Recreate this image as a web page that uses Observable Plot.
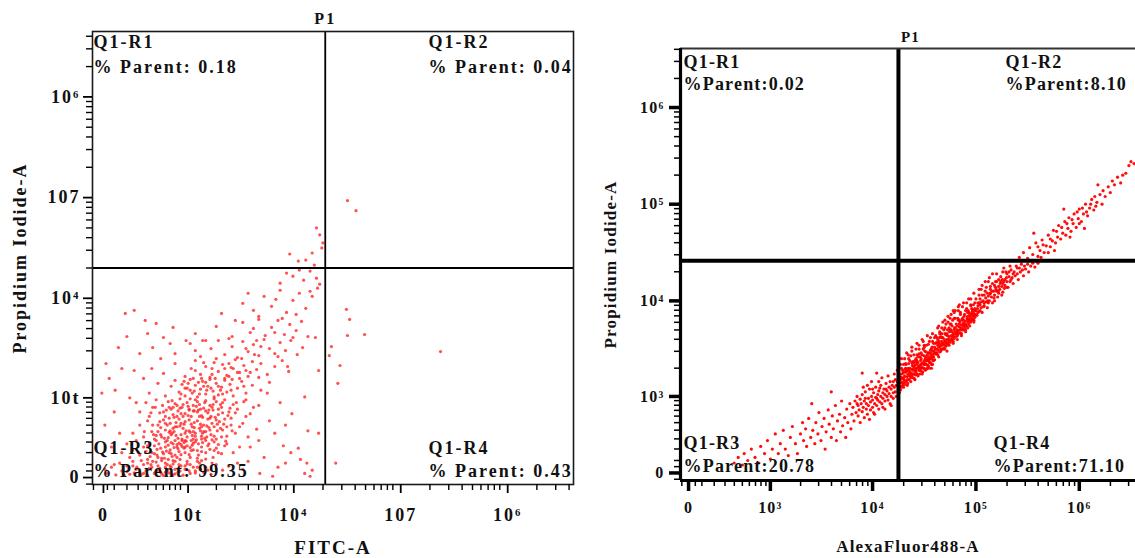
<!DOCTYPE html>
<html><head><meta charset="utf-8">
<script src="https://cdn.jsdelivr.net/npm/d3@7"></script>
<script src="https://cdn.jsdelivr.net/npm/@observablehq/plot@0.6"></script>
<style>
html,body{margin:0;padding:0;background:#fff;overflow:hidden;width:1135px;height:558px}
#wrap{position:relative;width:1135px;height:558px;overflow:hidden}
#left{position:absolute;left:0;top:0;width:585px}
#right{position:absolute;left:590px;top:0;width:560px}
svg{max-width:none !important}
svg text{font-family:"Liberation Serif","Times New Roman",serif;font-weight:bold;fill:#111}
#left svg text{letter-spacing:2px}
#right svg text{letter-spacing:1.2px}
</style></head><body><div id="wrap"><div id="left"></div><div id="right"></div></div>
<script>
// ---------- axis ticks and labels ----------
const majorValues = [0, 1e3, 1e4, 1e5, 1e6];
const leftXTickLabels = ["0", "10t", "10⁴", "107", "10⁶"];
const leftYTickLabels = ["0", "10t", "10⁴", "107", "10⁶"];
const rightTickLabels = ["0", "10³", "10⁴", "10⁵", "10⁶"];
const quadrantNames = ["Q1-R1", "Q1-R2", "Q1-R3", "Q1-R4"];
const leftParents = ["0.18", "0.04", "99.35", "0.43"];
const rightParents = ["0.02", "8.10", "20.78", "71.10"];
const gateName = "P1";
const leftTitles = {x: "FITC-A", y: "Propidium Iodide-A"};
const rightTitles = {x: "AlexaFluor488-A", y: "Propidium Iodide-A"};
// gate thresholds (intensity)
const leftGate = [2.1e4, 2.0e4];
const rightGate = [1.78e4, 2.6e4];
// visible axis ranges (intensity)
const leftXRange = [-57, 4.4e6], leftYRange = [-53, 4.46e6];
const rightXRange = [-60, 4.37e6], rightYRange = [-60, 4.08e6];

// ---------- events: [log10 FITC / AlexaFluor488, log10 PI] ----------
const leftCore = [
[1.7,1.5],[1.9,1.9],[2.05,1.3],[2.15,2.05],[2.2,1.7],[2.3,1.95],[2.35,1.4],[2.4,2.1],[2.45,1.8],[2.5,1.6],[2.55,2.0],[2.6,1.2],[2.62,1.85],[2.66,2.1],[2.7,1.65],[2.72,1.95],[2.76,1.45],[2.8,2.05],[2.82,1.75],[2.86,1.9],[2.88,1.3],[2.9,2.1],[2.93,1.6],[2.96,1.95],[3.0,1.8],[3.02,2.1],[3.05,1.5],[3.08,1.9],[3.1,1.7],[3.14,2.05],[3.18,1.6],[3.2,1.9],[3.25,1.4],[3.3,2.0],[3.36,1.75],[3.42,1.95],[2.25,1.2],[2.52,1.35],[2.78,1.2],[2.98,1.25],[1.5,1.8],[2.0,2.0],[2.42,1.55],[2.68,1.5],[2.84,1.55],
[2.2,2.3],[2.3,2.45],[2.35,2.2],[2.4,2.35],[2.45,2.5],[2.5,2.25],[2.55,2.4],[2.6,2.15],[2.62,2.45],[2.65,2.3],[2.7,2.5],[2.72,2.2],[2.75,2.38],[2.78,2.28],[2.8,2.48],[2.83,2.15],[2.85,2.35],[2.88,2.45],[2.9,2.25],[2.92,2.4],[2.95,2.15],[2.97,2.5],[3.0,2.3],[3.02,2.42],[3.05,2.2],[3.08,2.35],[3.1,2.48],[3.13,2.25],[3.16,2.4],[3.2,2.3],[3.23,2.45],[3.27,2.2],[3.3,2.38],[3.35,2.28],[3.4,2.45],[3.46,2.3],[3.52,2.4],[2.58,2.32],[2.68,2.42],[2.87,2.22],[2.99,2.38],[3.12,2.18],[2.76,2.12],[3.06,2.5],[2.94,2.32],
[2.4,2.6],[2.5,2.7],[2.55,2.55],[2.6,2.75],[2.65,2.62],[2.68,2.52],[2.72,2.7],[2.75,2.58],[2.78,2.76],[2.8,2.64],[2.83,2.54],[2.85,2.72],[2.87,2.6],[2.9,2.5],[2.92,2.68],[2.94,2.77],[2.96,2.58],[2.98,2.66],[3.0,2.74],[3.02,2.55],[3.04,2.63],[3.06,2.71],[3.08,2.52],[3.1,2.6],[3.12,2.75],[3.14,2.66],[3.16,2.56],[3.18,2.7],[3.2,2.62],[3.22,2.77],[3.25,2.58],[3.28,2.68],[3.3,2.52],[3.33,2.74],[3.36,2.64],[3.4,2.56],[3.44,2.7],[3.48,2.6],[3.55,2.72],[3.6,2.55],[2.82,2.7],[2.97,2.52],[3.07,2.68],[3.17,2.6],[2.88,2.66],[3.26,2.72],[2.7,2.57],[3.38,2.77],
[2.5,2.85],[2.58,2.95],[2.62,2.8],[2.66,2.9],[2.7,2.98],[2.74,2.84],[2.77,2.92],[2.8,2.8],[2.83,2.96],[2.86,2.88],[2.88,2.82],[2.9,2.94],[2.93,2.86],[2.95,2.99],[2.97,2.9],[3.0,2.83],[3.02,2.95],[3.04,2.87],[3.06,2.8],[3.08,2.92],[3.1,2.98],[3.12,2.85],[3.14,2.93],[3.16,2.81],[3.18,2.89],[3.2,2.97],[3.22,2.84],[3.24,2.92],[3.27,2.87],[3.3,2.96],[3.32,2.82],[3.35,2.9],[3.38,2.98],[3.42,2.85],[3.46,2.93],[3.5,2.88],[3.56,2.96],[3.62,2.83],[3.7,2.92],[2.92,2.8],[3.05,2.99],[3.15,2.88],[3.25,2.8],[2.84,2.9],[3.09,2.86],[3.36,2.95],[2.98,2.93],[3.28,2.99],
[2.62,3.05],[2.72,3.15],[2.8,3.02],[2.86,3.12],[2.9,3.18],[2.94,3.06],[2.97,3.14],[3.0,3.02],[3.02,3.1],[3.05,3.19],[3.07,3.05],[3.1,3.13],[3.12,3.01],[3.15,3.09],[3.17,3.17],[3.2,3.04],[3.22,3.12],[3.24,3.19],[3.27,3.07],[3.3,3.15],[3.32,3.03],[3.35,3.11],[3.38,3.18],[3.4,3.06],[3.43,3.14],[3.46,3.02],[3.5,3.1],[3.54,3.17],[3.58,3.05],[3.64,3.13],[3.72,3.08],[3.8,3.16],[3.13,3.16],[3.25,3.1],[3.05,3.08],[3.36,3.04],[2.99,3.17],[3.18,3.12],[3.45,3.19],[3.28,3.01],
[2.78,3.25],[2.9,3.35],[3.0,3.22],[3.06,3.3],[3.1,3.38],[3.15,3.24],[3.2,3.32],[3.24,3.21],[3.28,3.36],[3.32,3.27],[3.36,3.34],[3.4,3.23],[3.44,3.31],[3.48,3.39],[3.52,3.26],[3.56,3.33],[3.6,3.22],[3.64,3.37],[3.68,3.29],[3.72,3.35],[3.78,3.24],[3.85,3.32],[3.92,3.38],[3.98,3.27],[3.3,3.4],[3.46,3.3],[3.58,3.28],[3.18,3.36],[3.38,3.2],[3.7,3.21]
];
const leftCoreDense = [
[2.81,2.33],[2.84,2.61],[2.86,2.47],[2.89,2.79],[2.91,2.57],[2.93,2.37],[2.95,2.69],[2.96,2.83],[2.99,2.47],[3.01,2.63],[3.03,2.81],[3.05,2.39],[3.07,2.57],[3.09,2.73],[3.11,2.91],[3.13,2.45],[3.15,2.63],[3.17,2.79],[3.19,2.53],[3.21,2.69],[3.23,2.87],[3.26,2.51],[3.29,2.79],[3.31,2.63],[3.34,2.93],[3.37,2.71],[3.39,2.49],[3.41,2.81],[3.45,2.63],[3.49,2.95],
[2.73,2.45],[2.75,2.67],[2.77,2.31],[2.79,2.53],[2.81,2.87],[2.83,2.43],[2.85,2.63],[2.87,2.97],[2.89,2.39],[2.91,2.73],[2.93,2.53],[2.95,2.89],[2.97,2.41],[2.99,2.71],[3.01,2.49],[3.03,2.91],[3.05,2.61],[3.07,2.43],[3.09,2.67],[3.11,2.51],[3.13,2.87],[3.15,2.71],[3.17,2.47],[3.19,2.95],[3.21,2.55],[3.23,2.67],[3.27,2.93],[3.31,2.71],[3.35,2.55],[3.43,2.89],
[2.63,2.22],[2.67,2.58],[2.71,2.36],[2.74,2.74],[2.79,2.18],[2.82,2.5],[2.86,2.28],[2.89,2.62],[2.92,2.2],[2.96,2.44],[3.0,2.6],[3.04,2.26],[3.08,2.46],[3.12,2.34],[3.16,2.52],[3.2,2.16],[3.24,2.36],[3.28,2.48],[3.32,2.3],[3.38,2.42],
[2.46,1.9],[2.58,1.7],[2.64,2.0],[2.74,1.85],[2.8,1.6],[2.9,1.8],[2.94,2.0],[3.04,1.7],[3.12,1.9],[3.22,1.75],[2.52,2.12],[2.7,2.08],[2.88,2.02],[3.16,2.12],[3.26,2.05],
[2.96,3.04],[3.03,3.15],[3.09,3.07],[3.16,3.2],[3.21,3.08],[3.29,3.2],[3.34,3.08],[3.42,3.22],[3.52,3.2],[3.62,3.26],[3.1,3.28],[3.26,3.3],[3.42,3.35],[3.54,3.4],[3.66,3.44],
[2.66,2.7],[2.69,2.9],[2.71,2.25],[2.73,1.75],[2.76,2.55],[2.78,2.85],[2.8,2.4],[2.82,2.0],[2.84,2.78],[2.86,2.58],[2.88,2.12],[2.9,2.68],[2.92,2.92],[2.94,2.46],[2.96,2.26],[2.98,2.8],[3.0,2.5],[3.02,2.02],[3.04,2.76],[3.06,2.34],[3.08,2.86],[3.1,2.56],[3.12,2.1],[3.14,2.8],[3.16,2.32],[3.18,2.62],[3.2,2.86],[3.22,2.42],[3.24,2.64],[3.26,2.9],[3.28,2.56],[3.3,2.76],[3.32,2.44],[3.34,2.66],[3.36,2.84],[3.4,2.68],[3.44,2.78],[3.48,2.84],[3.52,2.68],[3.58,2.8],
[2.56,2.62],[2.6,2.42],[2.64,2.84],[2.68,2.28],[2.72,2.62],[2.76,2.18],[2.8,2.72],[2.84,2.3],[2.88,2.9],[2.92,2.44],[2.96,2.72],[3.0,2.4],[3.04,2.88],[3.08,2.62],[3.12,2.96],[3.16,2.68],[3.2,2.5],[3.24,2.78],[3.28,2.34],[3.32,2.88],
[2.55,1.5],[2.65,1.9],[2.75,1.6],[2.85,1.95],[2.95,1.7],[3.05,2.0],[3.15,1.8],[2.6,2.05],[2.8,1.9],[3.0,1.95],[2.7,1.3],[2.9,1.45],[3.1,1.55],[2.4,1.95],[2.3,1.65],
[3.0,3.1],[3.08,3.2],[3.14,3.04],[3.2,3.16],[3.26,3.24],[3.32,3.12],[3.38,3.3],[3.44,3.08],[3.5,3.26],[3.56,3.12]
];
const leftTail = [
[2.9,3.45],[3.05,3.55],[3.15,3.42],[3.25,3.5],[3.32,3.58],[3.38,3.44],[3.45,3.52],[3.5,3.41],[3.55,3.57],[3.6,3.47],[3.65,3.54],[3.7,3.43],[3.75,3.59],[3.8,3.5],[3.85,3.45],[3.9,3.56],[3.95,3.48],[4.0,3.58],[4.06,3.44],[3.42,3.6],[3.58,3.5],[3.72,3.52],[3.2,3.58],[3.68,3.58],[3.88,3.42],
[3.1,3.65],[3.3,3.72],[3.45,3.62],[3.55,3.76],[3.62,3.66],[3.7,3.79],[3.76,3.63],[3.82,3.71],[3.88,3.78],[3.94,3.64],[3.99,3.74],[4.05,3.68],[4.1,3.77],[4.16,3.62],[3.65,3.7],[3.85,3.66],[3.48,3.78],[3.92,3.8],[4.02,3.61],
[3.35,3.85],[3.55,3.95],[3.65,3.88],[3.75,4.02],[3.82,3.92],[3.9,4.08],[3.96,3.86],[4.02,3.98],[4.08,4.05],[4.14,3.9],[4.2,4.02],[4.25,4.1],[3.7,3.82],[3.86,3.99],[4.05,3.84],[4.18,4.07],[3.6,4.05],
[3.9,4.15],[4.02,4.22],[4.12,4.18],[4.18,4.27],[4.24,4.2],[4.27,4.14],[4.08,4.28],[3.96,4.25]
];
const leftSparse = [
[2.42,3.88],[2.27,3.85],[2.57,3.78],[2.7,3.75],[2.12,3.51],[2.66,3.51],[1.6,3.35],[1.0,3.05],[2.03,3.08],[2.42,3.28],[2.88,3.71],[2.78,3.61],[3.01,3.58],[3.17,3.58],[3.1,3.48],
[2.3,3.62],[2.5,3.45],[1.8,3.2],[2.2,3.3],[2.6,3.65],[2.75,3.4],[2.0,2.85],[1.5,2.7],[2.35,3.0],[2.55,3.2],[2.15,2.6],[1.9,2.4],[2.45,2.95],[2.85,3.55],[2.65,3.3],
[4.26,2.6],[4.07,2.38],[3.95,2.05],[4.2,1.75],[4.13,1.5],[4.01,2.83],[4.13,3.01],[3.97,3.32],[4.26,3.28],[4.11,3.51],[4.23,3.61],[3.71,1.5],[3.83,1.0],[3.93,2.42],[4.0,2.3],[4.09,2.15],[4.16,2.63],[4.18,1.0],[4.15,2.05],
[3.6,2.1],[3.7,2.5],[3.8,2.75],[3.65,2.9],[3.75,2.2],[3.85,2.6],[3.9,2.95],[3.55,1.8],[3.62,2.4],[3.78,3.05],[3.88,1.9],[3.5,2.05],[3.68,2.65],[3.95,2.7],[3.58,2.98]
];
const leftOutliers = [
[3.99,4.44],[4.07,4.37],[4.14,4.38],[4.22,4.33],[4.24,4.7],[4.27,4.63],[4.29,4.5],[4.3,4.55],[4.2,4.45],
[4.53,4.97],[4.61,4.87],
[4.52,3.89],[4.55,3.79],[4.69,3.64],[4.53,3.63],[4.36,3.43],[4.46,3.33],[4.44,3.15],[5.4,3.47],[4.42,2.05],[4.38,3.52]
];

const rightTail = [
[2.6,1.9],[2.65,2.1],[2.7,1.8],[2.72,2.2],[2.76,2.0],[2.8,2.3],[2.84,2.1],[2.88,1.9],[2.9,2.35],[2.94,2.2],[2.97,2.45],[3.0,2.05],[3.02,2.3],[3.05,2.55],[3.08,2.2],[3.1,2.4],[3.13,2.6],[3.15,2.3],[3.18,2.15],[3.2,2.5],[3.22,2.65],[3.25,2.4],[3.27,2.2],[3.3,2.55],[3.32,2.7],
[3.33,2.45],[3.35,2.62],[3.36,2.35],[3.38,2.75],[3.4,2.5],[3.41,2.92],[3.42,2.6],[3.44,2.4],[3.45,2.7],[3.47,2.55],[3.48,2.82],[3.5,2.45],[3.51,2.65],[3.53,2.75],[3.54,2.3],[3.55,2.58],[3.57,2.85],[3.58,2.68],[3.6,2.5],[3.61,2.78],[3.62,2.62],[3.64,2.9],[3.65,2.45],[3.66,2.72],[3.68,2.8],[3.69,2.58],[3.7,2.95],[3.71,2.66],[3.73,2.76],[3.74,2.5],[3.75,2.86],[3.76,2.7],[3.78,2.92],[3.79,2.62],[3.8,2.8],[3.6,3.05],[3.9,3.25],
[3.81,2.88],[3.82,2.72],[3.83,2.95],[3.84,2.82],[3.85,3.0],[3.86,2.78],[3.86,2.9],[3.87,2.85],[3.88,2.97],[3.88,2.7],[3.89,2.92],[3.9,2.83],[3.9,3.02],[3.91,2.88],[3.92,2.76],[3.92,2.95],[3.93,3.05],[3.94,2.86],[3.94,2.92],[3.95,2.8],[3.96,2.98],[3.96,2.9],[3.97,3.08],[3.98,2.85],[3.98,2.94],[3.99,3.0],[4.0,2.88],[4.0,2.96],[4.01,3.04],[4.01,2.82],[4.02,2.92],[4.03,2.99],[4.03,3.1],[4.04,2.9],[4.05,2.96],[4.05,3.02],[4.06,2.86],[4.06,3.06],[4.07,2.94],[4.08,3.0],[4.08,3.12],[4.09,2.92],[4.1,3.04],[4.1,2.98],[4.11,3.08],[4.12,2.95],[4.12,3.02],[4.13,3.14],[4.14,3.0],[4.14,3.06],[4.15,2.96],[4.16,3.1],[4.16,3.03],[4.17,3.16],[4.18,3.0],[4.18,3.08],[4.19,3.12],[4.2,3.04],[4.2,2.98],[4.21,3.1],[4.22,3.18],[4.22,3.05],[4.23,3.12],[4.23,3.0],[4.04,3.25],
[3.91,3.1],[3.95,3.12],[3.99,3.16],[4.02,2.8],[4.06,3.16],[4.09,3.2],[4.12,2.86],[4.15,3.22],[4.18,2.9],[4.21,3.24],[3.85,2.92],[3.93,2.98],[4.0,3.08],[4.07,3.09],[4.13,3.08],[4.17,2.92],[4.2,3.16],[3.97,2.74],[4.04,2.98],[4.1,2.88]
];
const rightBand = [
[4.24,3.16],[4.25,3.08],[4.25,3.23],[4.26,3.14],[4.27,3.21],[4.27,3.07],[4.28,3.3],[4.29,3.19],[4.29,3.12],[4.3,3.26],[4.31,3.13],[4.31,3.22],[4.32,3.35],[4.33,3.21],[4.33,3.28],[4.34,3.14],[4.35,3.35],[4.35,3.22],[4.36,3.29],[4.37,3.2],[4.37,3.43],[4.38,3.29],[4.39,3.2],[4.39,3.37],[4.4,3.24],[4.41,3.33],[4.41,3.27],[4.42,3.4],[4.43,3.3],[4.43,3.24],[4.44,3.36],[4.45,3.28],[4.45,3.45],[4.46,3.33],[4.47,3.27],[4.47,3.4],[4.48,3.31],[4.49,3.5],[4.49,3.36],[4.5,3.3],[4.5,3.43],[4.51,3.35],[4.52,3.29],[4.52,3.47],[4.53,3.38],[4.54,3.32],[4.54,3.55],[4.55,3.42],[4.56,3.36],[4.56,3.49],[4.57,3.4],[4.58,3.34],[4.58,3.58],[4.59,3.45],[4.6,3.39],[4.6,3.52],
[4.245,3.12],[4.26,3.2],[4.275,3.15],[4.28,3.1],[4.295,3.25],[4.305,3.18],[4.32,3.16],[4.325,3.27],[4.34,3.24],[4.355,3.18],[4.36,3.38],[4.375,3.25],[4.385,3.33],[4.4,3.3],[4.405,3.19],[4.42,3.28],[4.425,3.36],[4.44,3.31],[4.455,3.24],[4.46,3.42],[4.475,3.35],[4.485,3.26],[4.5,3.38],[4.505,3.48],[4.52,3.34],[4.53,3.44],[4.545,3.38],[4.55,3.3],[4.565,3.44],[4.575,3.52],[4.585,3.38],[4.595,3.48],
[4.25,3.19],[4.265,3.11],[4.28,3.24],[4.29,3.15],[4.3,3.2],[4.315,3.29],[4.33,3.17],[4.345,3.3],[4.35,3.27],[4.365,3.24],[4.38,3.36],[4.39,3.28],[4.41,3.38],[4.415,3.23],[4.43,3.34],[4.45,3.32],[4.465,3.38],[4.48,3.44],[4.49,3.3],[4.51,3.4],[4.52,3.38],[4.535,3.33],[4.55,3.46],[4.56,3.4],[4.57,3.34],[4.58,3.48],[4.59,3.42],
[4.24,3.28],[4.26,3.04],[4.27,3.34],[4.285,3.2],[4.3,3.1],[4.31,3.4],[4.32,3.26],[4.335,3.12],[4.345,3.44],[4.36,3.3],[4.37,3.16],[4.38,3.48],[4.39,3.24],[4.4,3.36],[4.41,3.18],[4.42,3.5],[4.43,3.38],[4.44,3.22],[4.45,3.54],[4.46,3.28],[4.47,3.46],[4.48,3.24],[4.49,3.58],[4.5,3.34],[4.51,3.28],[4.52,3.54],[4.53,3.3],[4.54,3.46],[4.55,3.36],[4.56,3.62],[4.57,3.3],[4.58,3.42],[4.59,3.56],[4.6,3.46],[4.255,3.18],[4.29,3.28],[4.325,3.34],[4.36,3.22],[4.395,3.32],[4.43,3.44],[4.465,3.3],[4.5,3.52],[4.535,3.4],[4.57,3.5],
[4.61,3.45],[4.61,3.56],[4.62,3.5],[4.63,3.44],[4.63,3.6],[4.64,3.52],[4.65,3.47],[4.65,3.68],[4.66,3.55],[4.67,3.5],[4.67,3.62],[4.68,3.56],[4.69,3.51],[4.69,3.7],[4.7,3.58],[4.71,3.53],[4.71,3.65],[4.72,3.6],[4.73,3.55],[4.73,3.78],[4.74,3.63],[4.75,3.57],[4.75,3.7],[4.76,3.64],[4.77,3.59],[4.77,3.74],[4.78,3.66],[4.79,3.61],[4.79,3.82],[4.8,3.68],[4.81,3.63],[4.81,3.76],[4.82,3.7],[4.83,3.66],[4.83,3.8],[4.84,3.73],[4.85,3.67],[4.85,3.88],[4.86,3.75],[4.87,3.7],[4.87,3.82],[4.88,3.77],[4.89,3.72],[4.89,3.86],[4.9,3.79],[4.91,3.74],[4.91,3.92],[4.92,3.81],[4.93,3.76],[4.93,3.88],[4.94,3.84],[4.95,3.78],[4.95,3.95],[4.96,3.86],[4.97,3.81],[4.97,3.9],[4.98,3.87],[4.99,3.83],[4.99,3.98],[5.0,3.9],
[4.605,3.5],[4.62,3.57],[4.635,3.49],[4.645,3.58],[4.655,3.53],[4.67,3.58],[4.68,3.5],[4.695,3.6],[4.7,3.66],[4.715,3.57],[4.725,3.64],[4.74,3.58],[4.745,3.68],[4.76,3.6],[4.77,3.68],[4.785,3.63],[4.795,3.72],[4.805,3.66],[4.82,3.74],[4.83,3.69],[4.845,3.78],[4.855,3.71],[4.865,3.8],[4.88,3.74],[4.885,3.84],[4.9,3.75],[4.915,3.82],[4.925,3.78],[4.94,3.86],[4.95,3.82],[4.965,3.91],[4.975,3.85],[4.99,3.9],
[4.64,3.74],[4.7,3.8],[4.76,3.86],[4.8,3.9],[4.84,3.96],[4.72,3.48],[4.78,3.56],[4.86,3.64],[4.92,3.72],[4.98,3.78],[4.66,3.63],[4.74,3.72],[4.82,3.64],[4.9,3.7],[4.96,3.8],
[4.61,3.64],[4.62,3.46],[4.63,3.54],[4.64,3.42],[4.65,3.62],[4.66,3.48],[4.67,3.72],[4.68,3.62],[4.69,3.56],[4.7,3.5],[4.71,3.76],[4.72,3.66],[4.73,3.6],[4.74,3.54],[4.75,3.82],[4.76,3.7],[4.77,3.62],[4.78,3.58],[4.79,3.88],[4.8,3.72],[4.81,3.66],[4.82,3.6],[4.83,3.9],[4.84,3.76],[4.85,3.7],[4.86,3.66],[4.87,3.94],[4.88,3.8],[4.89,3.74],[4.9,3.68],[4.91,3.98],[4.92,3.84],[4.93,3.8],[4.94,3.74],[4.95,4.02],[4.96,3.88],[4.97,3.84],[4.98,3.8],[4.99,3.92],[5.0,3.86],[4.625,3.62],[4.675,3.54],[4.725,3.7],[4.775,3.8],[4.825,3.82],[4.875,3.76],[4.925,3.9],[4.975,3.96],
[5.01,3.85],[5.02,3.95],[5.03,3.89],[5.04,4.02],[5.05,3.93],[5.06,3.88],[5.07,4.0],[5.08,3.95],[5.09,4.1],[5.1,3.99],[5.11,3.93],[5.12,4.05],[5.13,4.0],[5.14,4.15],[5.15,4.04],[5.16,3.98],[5.17,4.1],[5.18,4.06],[5.19,4.2],[5.2,4.1],[5.21,4.04],[5.22,4.15],[5.23,4.12],[5.24,4.25],[5.25,4.15],[5.26,4.09],[5.27,4.2],[5.28,4.16],[5.29,4.3],[5.3,4.2],
[5.015,3.92],[5.035,3.98],[5.055,3.99],[5.075,3.94],[5.095,4.03],[5.115,4.0],[5.135,4.07],[5.155,4.1],[5.175,4.03],[5.195,4.12],[5.215,4.1],[5.235,4.18],[5.255,4.22],[5.275,4.13],[5.295,4.24],[5.05,4.12],[5.12,4.2],[5.2,4.28],[5.27,4.34],
[5.02,3.98],[5.04,3.9],[5.06,4.06],[5.08,3.98],[5.1,4.14],[5.12,3.98],[5.14,4.08],[5.16,4.18],[5.18,4.0],[5.2,4.2],[5.22,4.08],[5.24,4.2],[5.26,4.3],[5.28,4.22],[5.3,4.14],[5.32,4.3],[5.34,4.22],[5.03,4.06],[5.11,4.08],[5.19,4.14],[5.25,4.06],[5.33,4.36],
[5.31,4.14],[5.32,4.25],[5.33,4.2],[5.34,4.32],[5.35,4.24],[5.36,4.18],[5.37,4.3],[5.38,4.26],[5.39,4.36],[5.4,4.28],[5.41,4.22],[5.42,4.34],[5.43,4.3],[5.44,4.38],[5.45,4.32],[5.46,4.26],[5.47,4.36],[5.48,4.33],[5.5,4.38],[5.51,4.3],[5.53,4.36],[5.55,4.39],[5.57,4.35],[5.6,4.39],
[4.25,3.36],[4.28,3.4],[4.3,3.34],[4.33,3.46],[4.35,3.4],[4.38,3.52],[4.4,3.44],[4.43,3.56],[4.45,3.5],[4.48,3.6],[4.5,3.54],[4.53,3.64],[4.55,3.58],[4.58,3.66],[4.6,3.62],[4.63,3.72],[4.65,3.66],[4.68,3.78],[4.7,3.72],[4.73,3.84],[4.75,3.76],[4.78,3.9],[4.8,3.82],[4.83,3.94],[4.85,3.86],[4.88,3.98],[4.9,3.9],[4.93,4.02],[4.95,3.96],[4.98,4.08],[5.0,4.02],[5.03,4.12],[5.06,4.16],[5.09,4.2],[5.13,4.24],[5.16,4.28],
[4.26,3.1],[4.3,3.15],[4.34,3.18],[4.38,3.22],[4.42,3.26],[4.46,3.3],[4.5,3.34],[4.54,3.38],[4.58,3.42],[4.62,3.46],[4.66,3.5],[4.7,3.54],[4.74,3.6],[4.78,3.64],[4.82,3.68],[4.86,3.72],[4.9,3.76],[4.94,3.8],[4.98,3.84],[5.02,3.88],
[4.27,3.18],[4.32,3.3],[4.36,3.26],[4.41,3.3],[4.44,3.42],[4.47,3.34],[4.52,3.42],[4.56,3.46],[4.59,3.38],[4.64,3.56],[4.67,3.66],[4.72,3.56],[4.76,3.76],[4.79,3.7],[4.84,3.8],[4.88,3.7],[4.92,3.88],[4.96,3.92],[5.04,3.96],[5.08,4.06],[5.14,4.12],[5.18,4.16],[5.22,4.22],[5.26,4.18],[5.3,4.28],[5.36,4.28],[5.4,4.34]
];
const rightUpper = [
[5.42,4.45],[5.46,4.5],[5.5,4.44],[5.52,4.55],[5.55,4.48],[5.58,4.6],[5.6,4.46],[5.62,4.52],[5.64,4.63],[5.66,4.5],[5.68,4.57],[5.7,4.68],[5.72,4.56],[5.74,4.62],[5.75,4.73],[5.77,4.6],[5.79,4.66],[5.8,4.78],[5.82,4.64],[5.84,4.7],[5.86,4.82],[5.87,4.68],[5.89,4.75],[5.9,4.86],[5.92,4.72],[5.94,4.8],[5.95,4.9],[5.97,4.76],[5.99,4.85],[6.0,4.95],[6.02,4.82],[6.04,4.9],[6.06,5.0],[6.08,4.88],[6.1,4.96],[6.12,5.05],[6.14,4.94],[6.17,5.02],[6.2,5.1],[6.22,5.0],[6.25,5.08],[6.28,5.18],[6.3,5.12],[6.34,5.2],[6.37,5.28],[6.4,5.22],[6.45,5.32],[6.48,5.4],[6.5,5.44],[6.53,5.42],[5.56,4.7],[5.85,4.95],[6.05,4.75],[6.18,5.2],[5.7,4.5],
[5.6,4.56],[5.65,4.58],[5.72,4.64],[5.78,4.72],[5.83,4.76],[5.88,4.8],[5.93,4.84],[5.98,4.92],[6.03,4.96],[6.07,4.92],[6.11,5.0],[6.15,5.08],[6.23,5.14],[6.32,5.24],[6.42,5.3],[5.63,4.45],[5.76,4.52],[5.91,4.66],[6.0,4.8],[6.16,4.98]
];

// ---------- biexponential-like display transform ----------
const T = v => Math.asinh(v / 332) / Math.LN10;

function minorTicks(dom) {
  const t = [-50, 50, 100];
  for (let e = 2; e <= 6; e++) for (let m = 2; m <= 9; m++) t.push(m * 10 ** e);
  return t.map(T).filter(v => v >= dom[0] && v <= dom[1]);
}

function panel(o) {
  const xd = o.xRange.map(T), yd = o.yRange.map(T);
  const majT = majorValues.map(T);
  const xLab = new Map(majT.map((v, i) => [v, o.xLabels[i]]));
  const yLab = new Map(majT.map((v, i) => [v, o.yLabels[i]]));
  const gx = T(o.gate[0]), gy = T(o.gate[1]);
  const q = (txt, anchor, dx, dy, size) =>
    Plot.text([txt], {text: d => d, frameAnchor: anchor, dx, dy, textAnchor: "start", lineAnchor: "middle", fontSize: size});
  const frameMarks = o.frameStyle === "thin"
    ? [Plot.frame({stroke: "#1a1a1a", strokeWidth: 1.6})]
    : [Plot.ruleY([yd[1]], {stroke: "#333", strokeWidth: 1.8}),
       Plot.ruleX([xd[0]], {stroke: "#000", strokeWidth: 3.2}),
       Plot.ruleY([yd[0]], {stroke: "#000", strokeWidth: 3.2})];
  return Plot.plot({
    width: o.width, height: 558,
    marginLeft: o.m[0], marginRight: o.m[1], marginTop: o.m[2], marginBottom: o.m[3],
    x: {type: "linear", domain: xd},
    y: {type: "linear", domain: yd},
    style: {background: "transparent", overflow: "visible"},
    marks: [
      ...o.cells.map(c => Plot.dot(c, {x: d => T(10 ** d[0]), y: d => T(10 ** d[1]), r: o.r, fill: o.color, fillOpacity: o.opacity})),
      Plot.ruleX([gx], {stroke: "#000", strokeWidth: o.gateWidth}),
      Plot.ruleY([gy], {stroke: "#000", strokeWidth: o.gateWidth}),
      ...frameMarks,
      Plot.axisX({ticks: minorTicks(xd), tickSize: o.minorSize, strokeWidth: o.minorWidth, tickFormat: () => "", stroke: "#000"}),
      Plot.axisY({ticks: minorTicks(yd), tickSize: o.minorSize, strokeWidth: o.minorWidth, tickFormat: () => "", stroke: "#000"}),
      Plot.axisX({ticks: majT, tickSize: o.majorSize, strokeWidth: o.majorWidth, stroke: "#000", tickFormat: d => xLab.get(d), fontSize: o.tickFont, tickPadding: o.xPad, dx: o.xLabelDx}),
      Plot.axisY({ticks: majT, tickSize: o.majorSize, strokeWidth: o.majorWidth, stroke: "#000", tickFormat: d => yLab.get(d), fontSize: o.tickFont, tickPadding: o.yPad}),
      Plot.text([gateName], {x: () => gx, text: d => d, frameAnchor: "top", dx: o.p1[0], dy: o.p1[1], lineAnchor: "middle", fontSize: o.p1[2]}),
      q(quadrantNames[0], "top-left", o.qL, o.qTop[0], o.qFont),
      q(o.parentPrefix + o.parents[0], "top-left", o.qL, o.qTop[1], o.qFont),
      q(quadrantNames[1], "top-right", o.qR[0], o.qTop[0], o.qFont),
      q(o.parentPrefix + o.parents[1], "top-right", o.qR[0], o.qTop[1], o.qFont),
      q(quadrantNames[2], "bottom-left", o.qL, o.qBot[0], o.qFont),
      q(o.parentPrefix + o.parents[2], "bottom-left", o.qL, o.qBot[1], o.qFont),
      q(quadrantNames[3], "bottom-right", o.qR[1], o.qBot[0], o.qFont),
      q(o.parentPrefix + o.parents[3], "bottom-right", o.qR[1], o.qBot[1], o.qFont),
      Plot.text([o.titles.x], {text: d => d, frameAnchor: "bottom", dx: o.xt[0], dy: o.xt[1], textAnchor: "middle", lineAnchor: "middle", fontSize: o.xt[2]}),
      Plot.text([o.titles.y], {text: d => d, frameAnchor: "left", dx: o.yt[0], rotate: -90, textAnchor: "middle", lineAnchor: "middle", fontSize: o.yt[1]})
    ]
  });
}

document.getElementById("left").append(panel({
  width: 585, m: [92, 12, 31, 74],
  xRange: leftXRange, yRange: leftYRange, gate: leftGate,
  cells: [leftCore, leftCoreDense, leftTail, leftSparse, leftOutliers], r: 1.6, color: "#ff2020", opacity: 0.78,
  xLabels: leftXTickLabels, yLabels: leftYTickLabels,
  frameStyle: "thin", gateWidth: 1.8,
  minorSize: 6, minorWidth: 1.4, majorSize: 9, majorWidth: 1.8,
  tickFont: 18, xPad: 15, yPad: 3, xLabelDx: 3,
  p1: [0, -13, 16],
  parentPrefix: "% Parent: ", parents: leftParents,
  qL: 1, qR: [-145, -145], qTop: [11, 36], qBot: [-36, -13], qFont: 18,
  titles: leftTitles, xt: [0, 63, 19], yt: [-72, 18]
}));

document.getElementById("right").append(panel({
  width: 560, m: [90, 5, 48, 78],
  xRange: rightXRange, yRange: rightYRange, gate: rightGate,
  cells: [rightTail, rightBand, rightUpper], r: 1.6, color: "#ff0000", opacity: 0.95,
  xLabels: rightTickLabels, yLabels: rightTickLabels,
  frameStyle: "thick", gateWidth: 4,
  minorSize: 6, minorWidth: 1.5, majorSize: 11, majorWidth: 3.5,
  tickFont: 16, xPad: 10, yPad: 5, xLabelDx: 0,
  p1: [12, -11, 15],
  parentPrefix: "%Parent:", parents: rightParents,
  qL: 3, qR: [-140, -152], qTop: [14, 36], qBot: [-37, -14], qFont: 18,
  titles: rightTitles, xt: [-5, 66, 17], yt: [-70, 17]
}));
</script>
</body></html>
